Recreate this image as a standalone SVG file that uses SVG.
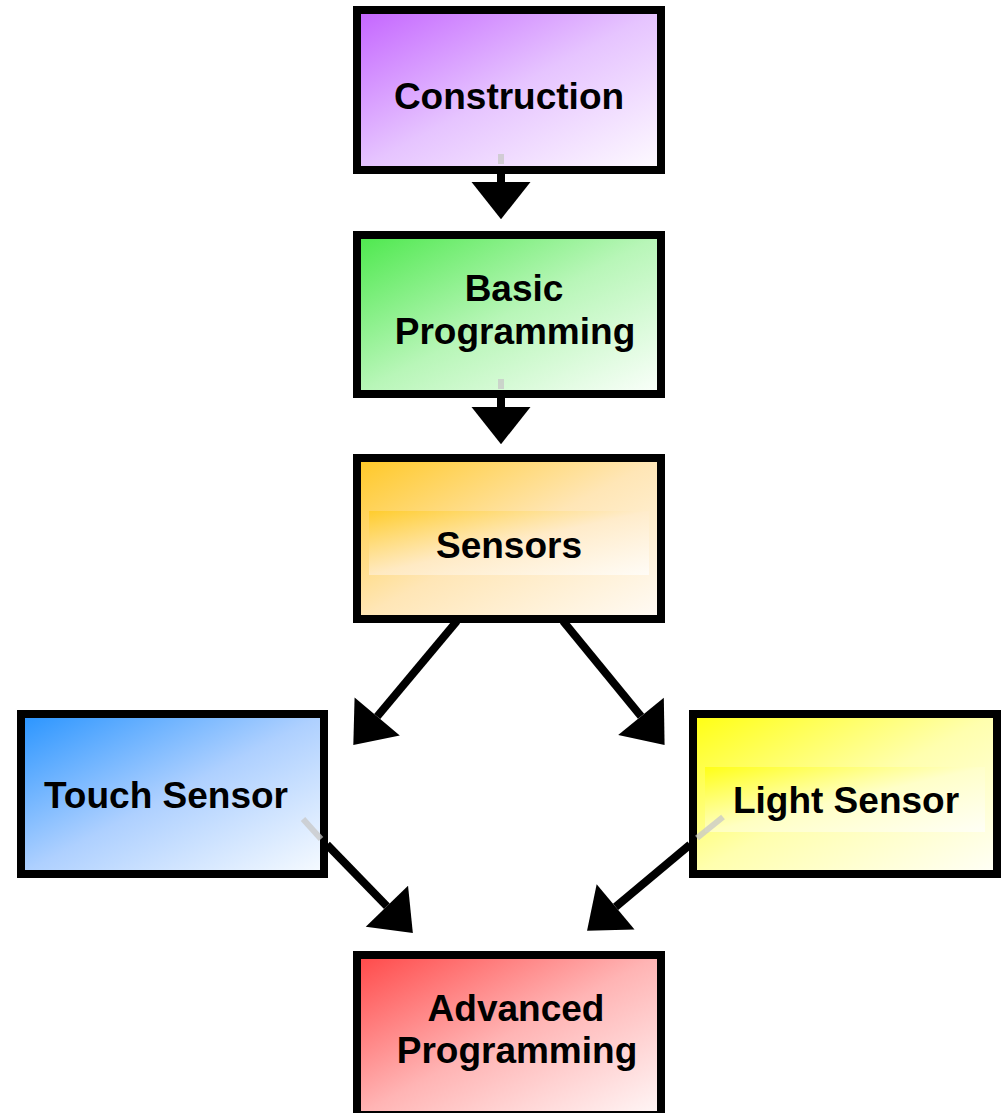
<svg xmlns="http://www.w3.org/2000/svg" width="1003" height="1113" viewBox="0 0 1003 1113">
  <style>
    .box { stroke: #000; stroke-width: 8; }
    .label { font-family: "Liberation Sans", Arial, sans-serif; font-weight: bold; font-size: 37px; fill: #000; text-anchor: middle; }
    .link { stroke: #000; stroke-width: 8; fill: none; marker-end: url(#head); }
    .stub { stroke: #c8c8c8; stroke-width: 6; opacity: 0.75; }
  </style>
  <defs>
    <linearGradient id="gPurple" x1="0" y1="0" x2="1" y2="1">
      <stop offset="0" stop-color="#c464ff"/>
      <stop offset="0.5" stop-color="#e6c4ff"/>
      <stop offset="1" stop-color="#fefbff"/>
    </linearGradient>
    <linearGradient id="gGreen" x1="0" y1="0" x2="1" y2="1">
      <stop offset="0" stop-color="#4ce84c"/>
      <stop offset="0.5" stop-color="#b8f6b8"/>
      <stop offset="1" stop-color="#fbfffb"/>
    </linearGradient>
    <linearGradient id="gOrange" x1="0" y1="0" x2="1" y2="1">
      <stop offset="0" stop-color="#ffc824"/>
      <stop offset="0.5" stop-color="#ffe6b6"/>
      <stop offset="1" stop-color="#fffbf6"/>
    </linearGradient>
    <linearGradient id="gBlue" x1="0" y1="0" x2="1" y2="1">
      <stop offset="0" stop-color="#2894ff"/>
      <stop offset="0.5" stop-color="#aed0ff"/>
      <stop offset="1" stop-color="#f7fbff"/>
    </linearGradient>
    <linearGradient id="gYellow" x1="0" y1="0" x2="1" y2="1">
      <stop offset="0" stop-color="#ffff10"/>
      <stop offset="0.5" stop-color="#ffffae"/>
      <stop offset="1" stop-color="#fffff7"/>
    </linearGradient>
    <linearGradient id="gRed" x1="0" y1="0" x2="1" y2="1">
      <stop offset="0" stop-color="#ff4848"/>
      <stop offset="0.5" stop-color="#ffb4b4"/>
      <stop offset="1" stop-color="#fff7f7"/>
    </linearGradient>
    <!-- lighter text bands inside the sensor boxes -->
    <linearGradient id="bandOrange" x1="0" y1="0" x2="1" y2="1">
      <stop offset="0" stop-color="#ffcc28" stop-opacity="0.9"/>
      <stop offset="0.5" stop-color="#ffeccc" stop-opacity="0.8"/>
      <stop offset="1" stop-color="#ffffff" stop-opacity="0.7"/>
    </linearGradient>
    <linearGradient id="bandYellow" x1="0" y1="0" x2="1" y2="1">
      <stop offset="0" stop-color="#ffff10" stop-opacity="0.9"/>
      <stop offset="0.5" stop-color="#ffffcc" stop-opacity="0.8"/>
      <stop offset="1" stop-color="#ffffff" stop-opacity="0.7"/>
    </linearGradient>
    <marker id="head" markerUnits="userSpaceOnUse" markerWidth="40" markerHeight="60" viewBox="0 -29 37 58" refX="0" refY="0" orient="auto">
      <path d="M0,-28.5 L36,0 L0,28.5 Z" fill="#000"/>
    </marker>
  </defs>

  <g id="node-construction">
    <rect class="box" x="357" y="10" width="304" height="160" fill="url(#gPurple)"/>
    <text class="label" x="509" y="109">Construction</text>
  </g>

  <g id="node-basic-programming">
    <rect class="box" x="357" y="235" width="304" height="159" fill="url(#gGreen)"/>
    <text class="label" x="514" y="301">Basic</text>
    <text class="label" x="515" y="344">Programming</text>
  </g>

  <g id="node-sensors">
    <rect class="box" x="357" y="458" width="304" height="161" fill="url(#gOrange)"/>
    <rect x="369" y="511" width="280" height="64" fill="url(#bandOrange)"/>
    <text class="label" x="509" y="558">Sensors</text>
  </g>

  <g id="node-touch-sensor">
    <rect class="box" x="21" y="714" width="303" height="160" fill="url(#gBlue)"/>
    <text class="label" x="166" y="808">Touch Sensor</text>
  </g>

  <g id="node-light-sensor">
    <rect class="box" x="693" y="714" width="304" height="160" fill="url(#gYellow)"/>
    <rect x="705" y="767" width="280" height="65" fill="url(#bandYellow)"/>
    <text class="label" x="846" y="813">Light Sensor</text>
  </g>

  <g id="node-advanced-programming">
    <rect class="box" x="357" y="955" width="304" height="160" fill="url(#gRed)"/>
    <text class="label" x="516" y="1021">Advanced</text>
    <text class="label" x="517" y="1063">Programming</text>
  </g>

  <g id="connectors">
    <!-- faint ends of the links where they leave each box -->
    <line class="stub" x1="501" y1="154" x2="501" y2="164"/>
    <line class="stub" x1="501" y1="379" x2="501" y2="389"/>
    <line class="stub" x1="303" y1="819" x2="321" y2="839"/>
    <line class="stub" x1="723" y1="817" x2="697" y2="838"/>

    <line class="link" x1="501" y1="173" x2="501" y2="182"/>
    <line class="link" x1="501" y1="397" x2="501" y2="407"/>
    <line class="link" x1="457" y1="621" x2="377.2" y2="716.5"/>
    <line class="link" x1="563" y1="621" x2="641" y2="716.3"/>
    <line class="link" x1="327" y1="844.6" x2="386.9" y2="906.2"/>
    <line class="link" x1="690" y1="844.6" x2="615.6" y2="906.9"/>
  </g>
</svg>
